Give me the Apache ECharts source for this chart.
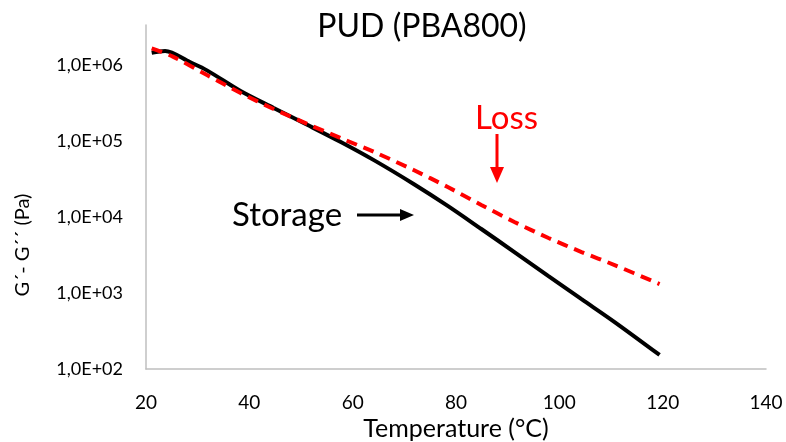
<!DOCTYPE html>
<html>
<head>
<meta charset="utf-8">
<script src="https://cdn.jsdelivr.net/npm/echarts@6/dist/echarts.min.js"></script>
<style>
html,body{margin:0;padding:0;background:#fff;}
#chart{width:786px;height:442px;}
</style>
</head>
<body>
<div id="chart"></div>
<script>
// Temperature (°C) and moduli (Pa)
const storageT = [21.1, 23.7, 28.5, 31.8, 38.3, 44.7, 51.3, 57.7, 64.1, 71.8, 78.4, 84.9, 91.3, 97.9, 104.3, 110.7, 119.4];
const storageG = [1.45e6, 1.53e6, 1.09e6, 8.5e5, 4.55e5, 2.72e5, 1.62e5, 9.7e4, 5.6e4, 2.72e4, 1.40e4, 6.95e3, 3.46e3, 1.67e3, 8.3e2, 4.15e2, 1.53e2];
const lossT = [21.1, 25.2, 31.8, 38.3, 44.7, 51.3, 57.7, 64.1, 71.8, 78.4, 84.9, 91.3, 97.9, 104.3, 110.7, 119.4];
const lossG = [1.66e6, 1.29e6, 7.38e5, 4.28e5, 2.64e5, 1.67e5, 1.09e5, 7.2e4, 4.15e4, 2.48e4, 1.44e4, 8.6e3, 5.3e3, 3.46e3, 2.33e3, 1.31e3];
const xTicks = [20, 40, 60, 80, 100, 120, 140];

const FONT = 'Lato, "Open Sans", sans-serif';
const chart = echarts.init(document.getElementById('chart'), null, {renderer: 'canvas'});
chart.setOption({
  animation: false,
  backgroundColor: '#fff',
  title: {
    text: 'PUD (PBA800)', left: 417, top: 6, textAlign: 'center',
    textStyle: {fontFamily: FONT, fontSize: 32, fontWeight: 'normal', color: '#000'}
  },
  grid: {left: 146, right: 20, top: 25, bottom: 73, containLabel: false, outerBoundsMode: 'none'},
  xAxis: {
    type: 'value', min: xTicks[0], max: xTicks[xTicks.length - 1], interval: 20,
    name: 'Temperature (°C)', nameLocation: 'middle', nameGap: 47,
    nameTextStyle: {fontFamily: FONT, fontSize: 25, color: '#000'},
    axisLine: {lineStyle: {color: '#bfbfbf', width: 1.5}},
    axisTick: {show: false},
    splitLine: {show: false},
    axisLabel: {fontFamily: FONT, fontSize: 19, color: '#000', margin: 24}
  },
  yAxis: {
    type: 'log', logBase: 10, min: 100, max: 3.36e6,
    axisLine: {show: true, lineStyle: {color: '#bfbfbf', width: 1.5}},
    axisTick: {show: false},
    splitLine: {show: false},
    axisLabel: {
      fontFamily: FONT, fontSize: 18, color: '#000', margin: 23, showMaxLabel: false,
      formatter: function (v) {
        const e = Math.round(Math.log10(v));
        if (Math.abs(Math.log10(v) - e) > 1e-6) return '';
        return '1,0E+' + (e < 10 ? '0' : '') + e;
      }
    }
  },
  series: [
    {
      name: 'Storage', type: 'line', showSymbol: false, smooth: 0.3,
      data: storageT.map((t, i) => [t, storageG[i]]),
      lineStyle: {color: '#000', width: 4}, z: 2
    },
    {
      name: 'Loss', type: 'line', showSymbol: false, smooth: 0.3,
      data: lossT.map((t, i) => [t, lossG[i]]),
      lineStyle: {color: '#ff0000', width: 4, type: [11, 7]}, z: 3
    }
  ],
  graphic: [
    {type: 'text', x: 23, y: 245, rotation: Math.PI / 2,
     style: {text: 'G´- G´´ (Pa)', fontFamily: FONT, fontSize: 20, fill: '#000', align: 'center', verticalAlign: 'middle'}},
    {type: 'text', x: 232, y: 215, style: {text: 'Storage', fontFamily: FONT, fontSize: 33, fill: '#000', verticalAlign: 'middle'}},
    {type: 'line', shape: {x1: 357, y1: 215, x2: 402, y2: 215}, style: {stroke: '#000', lineWidth: 3}},
    {type: 'polygon', shape: {points: [[400, 209], [414, 215], [400, 221]]}, style: {fill: '#000'}},
    {type: 'text', x: 475, y: 118, style: {text: 'Loss', fontFamily: FONT, fontSize: 33, fill: '#ff0000', verticalAlign: 'middle'}},
    {type: 'line', shape: {x1: 497, y1: 134, x2: 497, y2: 170}, style: {stroke: '#ff0000', lineWidth: 3}},
    {type: 'polygon', shape: {points: [[490, 167], [497, 183], [504, 167]]}, style: {fill: '#ff0000'}}
  ]
});
</script>
</body>
</html>
